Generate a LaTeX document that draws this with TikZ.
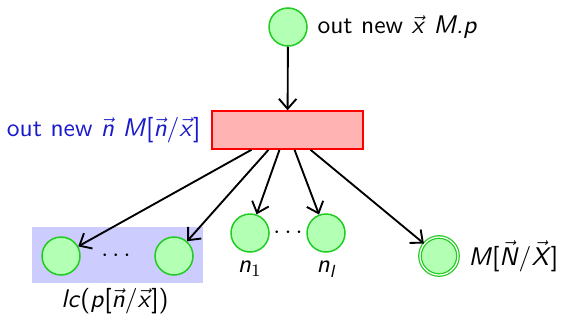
\documentclass[tikz,border=0pt]{standalone}
\usetikzlibrary{arrows.meta}
\definecolor{nodegreen}{HTML}{B3FFB3}
\definecolor{edgegreen}{HTML}{22CC22}
\definecolor{boxred}{HTML}{FFB3B3}
\definecolor{lblue}{HTML}{1A1ACC}
\definecolor{regblue}{HTML}{CCCCFF}
\newcommand{\mi}[1]{\textsl{#1}}
\newcommand{\vv}[1]{$\vec{\mbox{\mi{#1}}}$}
\begin{document}
\begin{tikzpicture}[x=0.4pt,y=-0.4pt,
  font=\sffamily\fontsize{10.2}{12}\selectfont,
  state/.style={circle,draw=edgegreen,fill=nodegreen,minimum size=38*0.4pt,inner sep=0pt,line width=0.6pt},
  final/.style={circle,draw=edgegreen,fill=nodegreen,double=white,double distance=0.5pt,minimum size=38*0.4pt,inner sep=0pt,line width=0.5pt},
  arr/.style={-{Straight Barb[length=4pt,width=7pt]},line width=0.75pt},
  lbl/.style={inner sep=0pt}]
\useasboundingbox (0,0) rectangle (564,320);
\fill[regblue] (32,227) rectangle (203,283);
\node[state] (top) at (288,27) {};
\node[lbl,anchor=west] (toplbl) at (317,27) {out new \vv{x} \mi{M.p}};
\node[draw=red,fill=boxred,minimum width=151*0.4pt,minimum height=38*0.4pt,inner sep=0pt,line width=0.6pt] (box) at (287.5,130) {};
\node[lbl,anchor=east,text=lblue] (boxlbl) at (201,130) {out new \vv{n} \mi{M}[\vv{n}/\vv{x}]};
\node[state] (a1) at (61,256) {};
\node[state] (a2) at (174,256) {};
\node (adots) at (116,256) {$\cdots$};
\node[lbl] (lc) at (115,301) {\mi{lc}(\mi{p}[\vv{n}/\vv{x}])};
\node[state] (n1) at (250,233) {};
\node[state] (nl) at (326,233) {};
\node (ndots) at (288,233) {$\cdots$};
\node[lbl] (n1lbl) at (250,269) {\mi{n}$_1$};
\node[lbl] (nllbl) at (326,269) {\mi{n}\raisebox{-0.4ex}{\scriptsize\mi{l}}};
\node[final] (fin) at (439,256) {};
\node[lbl,anchor=west] (finlbl) at (468,256) {\mi{M}[\vv{N}/\vv{X}]};
\draw[arr] (top) -- (box);
\draw[arr] ([xshift=-36*0.4pt]box.south) -- (a1);
\draw[arr] ([xshift=-19*0.4pt]box.south) -- (a2);
\draw[arr] ([xshift=-8*0.4pt]box.south) -- (n1);
\draw[arr] ([xshift=7*0.4pt]box.south) -- (nl);
\draw[arr] ([xshift=23*0.4pt]box.south) -- (fin);
\end{tikzpicture}
\end{document}
